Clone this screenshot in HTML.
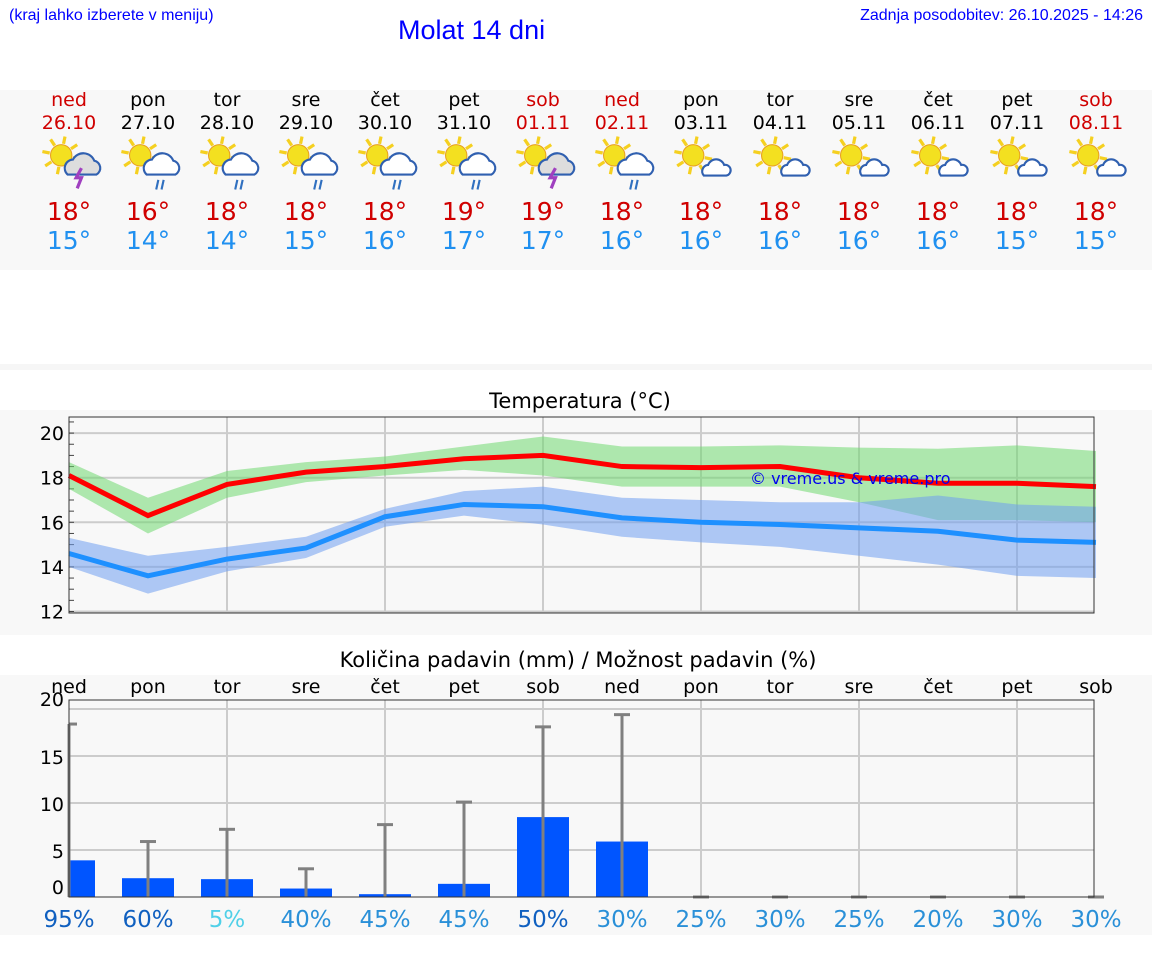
<!DOCTYPE html>
<html><head><meta charset="utf-8">
<style>
body{margin:0;width:1152px;height:975px;background:#fff;font-family:"DejaVu Sans","Liberation Sans",sans-serif;position:relative;overflow:hidden}
.a{position:absolute}
</style></head><body>
<div class="a" style="left:9px;top:7px;font-size:16px;color:#00f;font-family:'Liberation Sans',sans-serif">(kraj lahko izberete v meniju)</div>
<div class="a" style="left:398px;top:15px;font-size:27px;color:#00f;font-family:'Liberation Sans',sans-serif">Molat 14 dni</div>
<div class="a" style="right:9px;top:7px;font-size:16px;color:#00f;font-family:'Liberation Sans',sans-serif">Zadnja posodobitev: 26.10.2025 - 14:26</div>
<div class="a" style="left:0;top:90px;width:1152px;height:180px;background:#f8f8f8"></div>
<div class="a" style="left:0;top:364px;width:1152px;height:6px;background:#f6f6f6"></div>
<div id="days"></div>
<svg class="a" style="left:0;top:0" width="1152" height="975" id="ch"></svg>
<script>
const names=["ned","pon","tor","sre","čet","pet","sob","ned","pon","tor","sre","čet","pet","sob"];
const dates=["26.10","27.10","28.10","29.10","30.10","31.10","01.11","02.11","03.11","04.11","05.11","06.11","07.11","08.11"];
const icons=["storm","rain","rain","rain","rain","rain","storm","rain","cloud","cloud","cloud","cloud","cloud","cloud"];
const tmax=[18,16,18,18,18,19,19,18,18,18,18,18,18,18];
const tmin=[15,14,14,15,16,17,17,16,16,16,16,16,15,15];
const hiLine=[18.1,16.3,17.7,18.25,18.5,18.85,19.0,18.5,18.45,18.5,18.0,17.75,17.75,17.6];
const hiUp=[18.7,17.1,18.3,18.7,18.95,19.4,19.85,19.4,19.4,19.45,19.35,19.3,19.45,19.2];
const hiLo=[17.5,15.5,17.1,17.8,18.1,18.35,18.1,17.6,17.6,17.6,16.9,16.1,16.1,16.0];
const loLine=[14.6,13.6,14.35,14.85,16.25,16.8,16.7,16.2,16.0,15.9,15.75,15.6,15.2,15.1];
const loUp=[15.3,14.5,14.9,15.35,16.6,17.4,17.6,17.1,17.0,16.9,16.9,17.2,16.8,16.7];
const loLo=[14.0,12.8,13.8,14.4,15.8,16.3,15.9,15.35,15.1,14.9,14.5,14.1,13.6,13.5];
const precip=[3.9,2.0,1.9,0.9,0.3,1.4,8.5,5.9,0,0,0,0,0,0];
const precipMax=[18.4,5.9,7.2,3.0,7.7,10.1,18.1,19.4,0,0,0,0,0,0];
const chance=[95,60,5,40,45,45,50,30,25,30,25,20,30,30];
const tTicks=[12,14,16,18,20];
const pTicks=[0,5,10,15,20];
const X=i=>69+79*i;
const D=document.getElementById('days');
const red=i=>(i==0||i==6||i==7||i==13);
for(let i=0;i<14;i++){
 const c=X(i);
 let h=`<div class="a" style="left:${c-40}px;top:89px;width:80px;text-align:center;font-size:19px;line-height:23px;color:${red(i)?'#d00000':'#000'}">${names[i]}<br>${dates[i]}</div>`;
 let ic=`<svg class="a" style="left:${c-27}px;top:136px" width="64" height="60" viewBox="0 0 60 56">`;
 const sx=18,sy=18;
 for(let k=0;k<8;k++){const a=k*Math.PI/4+0.2;ic+=`<line x1="${sx+Math.cos(a)*11}" y1="${sy+Math.sin(a)*11}" x2="${sx+Math.cos(a)*18}" y2="${sy+Math.sin(a)*18}" stroke="#f5d020" stroke-width="3"/>`;}
 ic+=`<circle cx="${sx}" cy="${sy}" r="10" fill="#f3e020" stroke="#e8a020" stroke-width="1"/>`;
 if(icons[i]=="cloud") ic+=`<path d="M28 37 a6 6 0 0 1 4-10 a8 8 0 0 1 15 0 a5 5 0 0 1 2 10z" fill="#fff" stroke="#3060b0" stroke-width="2"/>`;
 else ic+=`<path d="M24 36 a8 8 0 0 1 5-14 a11 11 0 0 1 20 1 a7 7 0 0 1 2 13z" fill="${icons[i]=='storm'?'#ddd':'#fff'}" stroke="#3060b0" stroke-width="2"/>`;
 if(icons[i]=="rain") ic+=`<path d="M35 41 l-2 9 M40 41 l-2 9" stroke="#3070c0" stroke-width="2"/>`;
 if(icons[i]=="storm") ic+=`<path d="M37 30 l-5 9 h5 l-4 10" stroke="#a040c0" stroke-width="3" fill="none"/>`;
 ic+=`</svg>`;
 h+=ic;
 h+=`<div class="a" style="left:${c-40}px;top:197px;width:80px;text-align:center;font-size:25px;line-height:29px;color:#d00000">${tmax[i]}°</div>`;
 h+=`<div class="a" style="left:${c-40}px;top:226px;width:80px;text-align:center;font-size:25px;line-height:29px;color:#2090f0">${tmin[i]}°</div>`;
 D.insertAdjacentHTML('beforeend',h);
}
document.querySelectorAll('#days > div, #days > svg').forEach((e,k)=>{
 
 
});
const S=document.getElementById('ch');
const NS='http://www.w3.org/2000/svg';
function el(t,a,txt){const e=document.createElementNS(NS,t);for(const k in a)e.setAttribute(k,a[k]);if(txt!==undefined)e.textContent=txt;S.appendChild(e);return e;}
// temperature chart
const bg1=el('rect',{x:0,y:410,width:1152,height:225,fill:'#f8f8f8'});


const tt=el('text',{x:580,y:408,'font-size':21,'text-anchor':'middle',fill:'#000'},'Temperatura (°C)');


const TY=v=>611.5-(v-12)*22.3;
for(const v of tTicks){
 el('line',{x1:69,x2:1094,y1:TY(v),y2:TY(v),stroke:'#ccc','stroke-width':2});
 const t=el('text',{x:64,y:TY(v)+7,'font-size':19,'text-anchor':'end'},v);
 
 
}
for(let v=12;v<=20.6;v+=0.5) el('line',{x1:69,x2:74,y1:TY(v),y2:TY(v),stroke:'#444','stroke-width':1});
for(let i=2;i<14;i+=2) el('line',{x1:X(i),x2:X(i),y1:417,y2:613,stroke:'#ccc','stroke-width':2});
function band(up,lo,col){let d='M';for(let i=0;i<14;i++)d+=X(i)+' '+TY(up[i])+' L';for(let i=13;i>=0;i--)d+=X(i)+' '+TY(lo[i])+(i?' L':'Z');return el('path',{d:d,fill:col,'fill-opacity':0.55});}
const gb=band(hiUp,hiLo,'#6fd86f');


const bb=band(loUp,loLo,'#6f9ff0');


const line=(a,c)=>el('polyline',{points:a.map((v,i)=>X(i)+','+TY(v)).join(' '),fill:'none',stroke:c,'stroke-width':5});
const rl=line(hiLine,'#ff0000');


const bl=line(loLine,'#1e90ff');


const cp=el('text',{x:750,y:484,'font-size':16,fill:'#0000ee'},'© vreme.us & vreme.pro');


el('rect',{x:69,y:417,width:1025,height:196,fill:'none',stroke:'#333','stroke-width':1});
// precipitation chart
const bg2=el('rect',{x:0,y:675,width:1152,height:260,fill:'#f8f8f8'});


const pt=el('text',{x:578,y:667,'font-size':21,'text-anchor':'middle'},'Količina padavin (mm) / Možnost padavin (%)');


const PY=v=>897-v*9.4;
el('line',{x1:69,x2:1094,y1:709,y2:709,stroke:'#ccc','stroke-width':2});
for(const v of pTicks){
 if(v>0&&v<20) el('line',{x1:69,x2:1094,y1:PY(v),y2:PY(v),stroke:'#ccc','stroke-width':2});
 const y=v==20?706:(v==0?894:PY(v)+8);
 const t=el('text',{x:64,y:y,'font-size':19,'text-anchor':'end'},v);
 
 
}
for(let i=2;i<14;i+=2) el('line',{x1:X(i),x2:X(i),y1:700,y2:897,stroke:'#ccc','stroke-width':2});
for(let i=0;i<14;i++){
 const d=el('text',{x:X(i),y:693,'font-size':19,'text-anchor':'middle'},names[i]);
 
 
 const bx=i==0?69:X(i)-26, bw=i==0?26:52;
 const b=el('rect',{x:bx,y:PY(precip[i]),width:bw,height:precip[i]*9.4,fill:'#0055ff'});
 
 
 const w=el('line',{x1:X(i),x2:X(i),y1:897,y2:PY(precipMax[i]),stroke:'#808080','stroke-width':3});
 
 
 el('line',{x1:Math.max(69,X(i)-8),x2:X(i)+8,y1:PY(precipMax[i]),y2:PY(precipMax[i]),stroke:'#808080','stroke-width':3});
 const c=chance[i];
 const col=c>=50?'#1060c0':(c<=5?'#50d0e8':'#2a90d8');
 const pc=el('text',{x:X(i),y:927,'font-size':23,'text-anchor':'middle',fill:col},c+'%');
 
 
}
el('rect',{x:69,y:700,width:1025,height:197,fill:'none',stroke:'#333','stroke-width':1});
</script>
</body></html>
